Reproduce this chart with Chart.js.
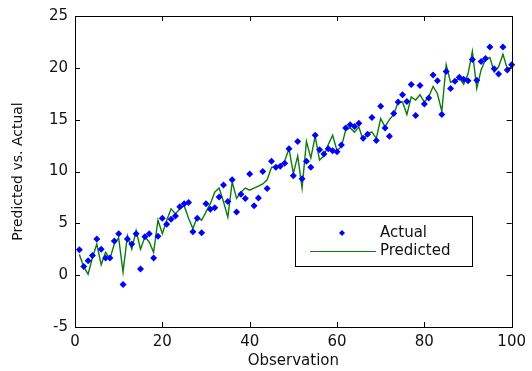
<!DOCTYPE html>
<html>
<head>
<meta charset="utf-8">
<script src="https://cdn.jsdelivr.net/npm/chart.js@4"></script>
<style>
  html, body { margin: 0; padding: 0; background: #fff; }
  #wrap { width: 532px; height: 371px; position: relative; }
</style>
</head>
<body>
<div id="wrap"><canvas id="c" width="532" height="371"></canvas></div>
<script>
// ---- data ----
const observations = [
  1,2,3,4,5,6,7,8,9,10,11,12,13,14,15,16,17,18,19,20,
  21,22,23,24,25,26,27,28,29,30,31,32,33,34,35,36,37,38,39,40,
  41,42,43,44,45,46,47,48,49,50,51,52,53,54,55,56,57,58,59,60,
  61,62,63,64,65,66,67,68,69,70,71,72,73,74,75,76,77,78,79,80,
  81,82,83,84,85,86,87,88,89,90,91,92,93,94,95,96,97,98,99,100
];
const actualValues = [
  2.45,0.84,1.4,1.9,3.5,2.5,1.65,1.65,3.3,4.0,
  -0.9,3.5,3.0,4.0,0.6,3.7,4.0,1.65,3.75,5.5,
  4.9,5.4,5.7,6.6,6.9,7.0,4.2,5.5,4.1,6.9,
  6.35,6.5,7.55,8.7,7.1,9.2,6.1,7.8,7.4,9.75,
  6.7,7.45,10.0,8.35,11.0,10.4,10.5,10.8,12.2,9.6,
  12.9,9.3,11.0,10.4,13.5,12.1,11.7,12.2,12.0,11.9,
  12.55,14.2,14.5,14.35,14.65,13.2,13.6,15.2,13.0,16.3,
  14.2,13.4,15.6,16.7,17.4,16.75,18.4,15.4,18.3,16.5,
  17.1,19.3,18.75,15.5,19.65,18.0,18.7,19.1,18.9,18.75,
  20.8,18.8,20.6,20.9,22.0,19.9,19.4,22.0,19.8,20.3
];
const predictedValues = [
  2.0,0.8,0.1,1.7,3.0,1.0,2.2,1.6,3.0,3.6,
  0.3,3.8,2.5,4.3,2.5,3.7,3.2,2.2,5.3,4.0,
  5.3,6.4,5.9,6.4,6.7,5.5,4.5,5.6,5.3,6.1,
  6.9,8.0,8.4,7.1,5.6,9.0,7.4,8.0,8.4,8.2,
  8.4,8.6,8.8,9.2,10.4,10.5,10.6,11.0,12.2,9.8,
  11.5,8.4,12.9,11.3,13.4,11.1,11.5,12.6,13.5,12.0,
  12.4,14.0,14.2,13.8,14.3,13.0,13.7,13.8,13.2,15.1,
  14.3,15.0,15.5,16.7,16.7,15.5,17.2,16.9,17.4,16.7,
  17.2,18.2,17.5,15.8,20.3,18.6,18.8,19.0,18.4,19.4,
  21.6,18.0,19.8,20.8,21.0,19.6,20.1,21.3,19.9,20.1
];
const xTicks = [0, 20, 40, 60, 80, 100];
const yTicks = [-5, 0, 5, 10, 15, 20, 25];
const seriesNames = ['Actual', 'Predicted'];
const axisTitles = { x: 'Observation', y: 'Predicted vs. Actual' };

// ---- styling ----
const FONT = '"DejaVu Sans", "Liberation Sans", Arial, sans-serif';
const TEXT = '#111';
const BLUE = '#0000ff';
const GREEN = '#0a7a0a';

const pts = (vals) => observations.map((x, i) => ({ x: x, y: vals[i] }));

const framePlugin = {
  id: 'frame',
  afterDraw(chart) {
    const ctx = chart.ctx;
    const a = chart.chartArea;
    const xs = chart.scales.x, ys = chart.scales.y;
    ctx.save();
    ctx.strokeStyle = '#000';
    ctx.lineWidth = 1;
    ctx.strokeRect(Math.round(a.left) + 0.5, Math.round(a.top) + 0.5,
                   Math.round(a.right - a.left), Math.round(a.bottom - a.top));
    const tl = 5;
    ctx.beginPath();
    xTicks.forEach(v => {
      const px = Math.round(xs.getPixelForValue(v)) + 0.5;
      ctx.moveTo(px, a.bottom); ctx.lineTo(px, a.bottom - tl);
      ctx.moveTo(px, a.top); ctx.lineTo(px, a.top + tl);
    });
    yTicks.forEach(v => {
      const py = Math.round(ys.getPixelForValue(v)) + 0.5;
      ctx.moveTo(a.left, py); ctx.lineTo(a.left + tl, py);
      ctx.moveTo(a.right, py); ctx.lineTo(a.right - tl, py);
    });
    ctx.stroke();

    // legend box inside the axes
    const lx = a.left + 220, ly = a.top + 200, lw = 177, lh = 50;
    ctx.fillStyle = '#fff';
    ctx.fillRect(lx, ly, lw, lh);
    ctx.strokeRect(lx + 0.5, ly + 0.5, lw, lh);
    const r1 = ly + 17, r2 = ly + 35;
    ctx.fillStyle = BLUE;
    ctx.beginPath();
    const mx = lx + 47;
    ctx.moveTo(mx, r1 - 3); ctx.lineTo(mx + 3, r1); ctx.lineTo(mx, r1 + 3); ctx.lineTo(mx - 3, r1);
    ctx.closePath(); ctx.fill();
    ctx.strokeStyle = GREEN;
    ctx.beginPath();
    ctx.moveTo(lx + 15, r2 + 0.5); ctx.lineTo(lx + 81, r2 + 0.5);
    ctx.stroke();
    ctx.fillStyle = TEXT;
    ctx.font = '15px ' + FONT;
    ctx.textBaseline = 'middle';
    ctx.textAlign = 'left';
    ctx.fillText(seriesNames[0], lx + 85, r1);
    ctx.fillText(seriesNames[1], lx + 85, r2);
    ctx.restore();
  }
};

new Chart(document.getElementById('c'), {
  type: 'scatter',
  data: {
    datasets: [
      {
        label: seriesNames[1],
        data: pts(predictedValues),
        showLine: true,
        borderColor: GREEN,
        borderWidth: 1.4,
        pointRadius: 0,
        tension: 0,
        order: 2
      },
      {
        label: seriesNames[0],
        data: pts(actualValues),
        showLine: false,
        pointStyle: 'rectRot',
        pointRadius: 3.5,
        pointBackgroundColor: BLUE,
        pointBorderColor: BLUE,
        pointBorderWidth: 0,
        clip: false,
        order: 1
      }
    ]
  },
  options: {
    responsive: false,
    animation: false,
    events: [],
    layout: { padding: { top: 15, right: 15, left: 0, bottom: 0 } },
    plugins: {
      legend: { display: false },
      tooltip: { enabled: false }
    },
    scales: {
      x: {
        type: 'linear',
        min: 0, max: 100,
        afterBuildTicks: (s) => { s.ticks = xTicks.map(v => ({ value: v })); },
        afterFit: (s) => { s.height = 44; },
        grid: { display: false, drawTicks: false },
        border: { display: false },
        ticks: { color: TEXT, font: { family: FONT, size: 15 }, padding: 6, maxRotation: 0 },
        title: { display: true, text: axisTitles.x, color: TEXT, font: { family: FONT, size: 15 }, padding: { top: 0, bottom: 1 } }
      },
      y: {
        type: 'linear',
        min: -5, max: 25,
        afterBuildTicks: (s) => { s.ticks = yTicks.map(v => ({ value: v })); },
        afterFit: (s) => { s.width = 75; },
        grid: { display: false, drawTicks: false },
        border: { display: false },
        ticks: { color: TEXT, font: { family: FONT, size: 15 }, padding: 7 },
        title: { display: true, text: axisTitles.y, color: TEXT, font: { family: FONT, size: 14 }, padding: { top: 10, bottom: 0 } }
      }
    }
  },
  plugins: [framePlugin]
});
</script>
</body>
</html>
